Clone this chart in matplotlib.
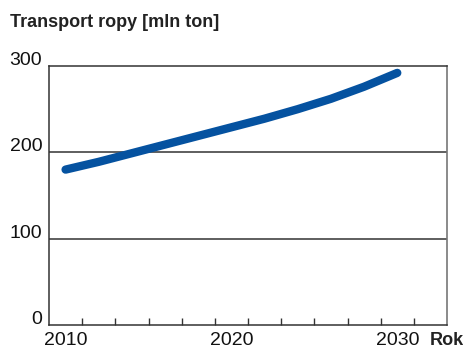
import numpy as np
import matplotlib
matplotlib.use("Agg")
import matplotlib.pyplot as plt
import matplotlib.transforms as mtransforms

plt.rcParams['font.family'] = ['Liberation Sans', 'DejaVu Sans']

years = [2010, 2012, 2014, 2016, 2018, 2020, 2022, 2024, 2026, 2028, 2030]
oil_mt = [180, 189, 199, 209, 219, 229, 239, 250, 262, 276, 292]
y_ticks = [0, 100, 200, 300]
x_labels = [2010, 2020, 2030]
minor_years = list(range(2011, 2033, 2))

fig = plt.figure(figsize=(4.64, 3.54), dpi=100)
ax = fig.add_axes([0.1056, 0.0819, 0.8578, 0.7317])

ax.plot(years, oil_mt, color='#0552a0', lw=6, solid_capstyle='round', zorder=3)

ax.set_xlim(2009, 2033)
ax.set_ylim(0, 300)

# horizontal rules
for v in y_ticks[1:3]:
    ax.axhline(v, color='#333333', lw=1.1, zorder=1)

for side in ['left', 'bottom', 'top']:
    ax.spines[side].set_color('#333333')
    ax.spines[side].set_linewidth(1.1)
ax.spines['right'].set_color('#777777')
ax.spines['right'].set_linewidth(1.2)

ax.set_xticks(minor_years)
ax.set_xticklabels([])
ax.tick_params(axis='x', direction='in', length=5, width=1, color='#333333')
ax.set_yticks([])

# y labels sit on their rules
ytr = mtransforms.blended_transform_factory(ax.transAxes, ax.transData)
for v in y_ticks:
    ax.text(-0.017, v + 1, str(v), transform=ytr, ha='right', va='baseline',
            fontsize=14, color='#111111')

xtr = mtransforms.blended_transform_factory(ax.transData, ax.transAxes)
for yr in x_labels:
    ax.text(yr, -0.028, str(yr), transform=xtr, ha='center', va='top',
            fontsize=14, color='#111111')
ax.text(1.0, -0.028, 'Rok', transform=ax.transAxes, ha='center', va='top',
        fontsize=13, fontweight='bold', color='#222222')

fig.text(0.021, 0.924, 'Transport ropy [mln ton]', ha='left', va='baseline',
         fontsize=13, fontweight='bold', color='#222222')

fig.savefig('out.png', dpi=100)
